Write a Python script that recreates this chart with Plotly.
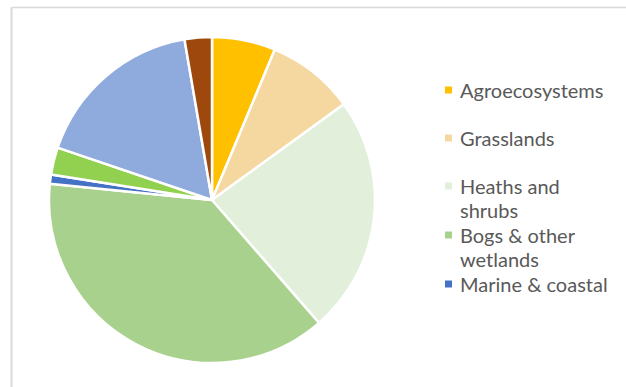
import plotly.graph_objects as go

# Share of ecosystem area by type (percent), clockwise from 12 o'clock
ecosystems = [
    "Agroecosystems",
    "Grasslands",
    "Heaths and shrubs",
    "Bogs & other wetlands",
    "Marine & coastal",
    "Rivers & lakes",
    "Woodland & forest",
    "Urban",
]
shares = [6.3, 8.7, 23.6, 38.0, 0.9, 2.7, 17.1, 2.7]
colors = [
    "#FFC000",
    "#F4D8A0",
    "#E2EFDA",
    "#A9D18E",
    "#4472C4",
    "#92D050",
    "#8FAADC",
    "#9E480E",
]

# Legend entries that are shown, one list of text lines per entry
legend_lines = [
    ["Agroecosystems"],
    ["Grasslands"],
    ["Heaths and", "shrubs"],
    ["Bogs & other", "wetlands"],
    ["Marine & coastal"],
]
legend_rows_px = [90, 138, 186, 235, 284]
line_step_px = 24

W, H = 626, 387
cx, cy, r = 212, 200, 163


def px_x(x):
    return x / W


def px_y(y):
    return 1 - y / H


fig = go.Figure(
    go.Pie(
        labels=ecosystems,
        values=shares,
        sort=False,
        direction="clockwise",
        rotation=0,
        textinfo="none",
        hoverinfo="label+percent",
        marker=dict(colors=colors, line=dict(color="white", width=2.5)),
        domain=dict(
            x=[px_x(cx - r), px_x(cx + r)],
            y=[px_y(cy + r), px_y(cy - r)],
        ),
        showlegend=False,
    )
)

shapes = [
    # chart frame (top and left edges)
    dict(type="line", xref="paper", yref="paper",
         x0=px_x(11.5), x1=1.0, y0=px_y(7.5), y1=px_y(7.5),
         line=dict(color="#D9D9D9", width=1.5)),
    dict(type="line", xref="paper", yref="paper",
         x0=px_x(11.5), x1=px_x(11.5), y0=px_y(7.5), y1=0,
         line=dict(color="#D9D9D9", width=2)),
]
annotations = []
for i, (lines, row) in enumerate(zip(legend_lines, legend_rows_px)):
    shapes.append(dict(
        type="rect", xref="paper", yref="paper",
        x0=px_x(445), x1=px_x(452), y0=px_y(row + 3.5), y1=px_y(row - 3.5),
        fillcolor=colors[i], line=dict(width=0),
    ))
    for k, line in enumerate(lines):
        annotations.append(dict(
            text=line, xref="paper", yref="paper",
            x=px_x(459), y=px_y(row + k * line_step_px - 0.5),
            xanchor="left", yanchor="middle", align="left", showarrow=False,
            borderpad=0,
            font=dict(family="Lato, 'Open Sans', sans-serif", size=20,
                      color="#595959"),
        ))

fig.update_layout(
    width=W,
    height=H,
    margin=dict(l=0, r=0, t=0, b=0),
    paper_bgcolor="white",
    plot_bgcolor="white",
    shapes=shapes,
    annotations=annotations,
)

fig.write_html("out.html")
